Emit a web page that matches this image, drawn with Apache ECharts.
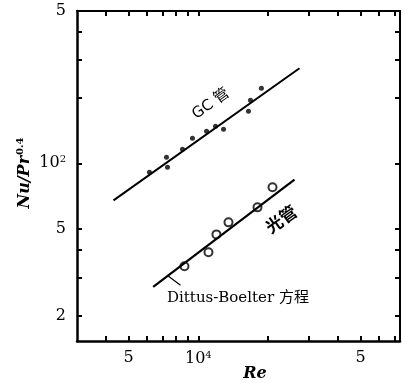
<!DOCTYPE html>
<html><head><meta charset="utf-8">
<script src="https://cdn.jsdelivr.net/npm/echarts@6/dist/echarts.min.js"></script>
<style>html,body{margin:0;padding:0;background:#fff}#c{width:406px;height:383px}</style>
</head><body><div id="c"></div>
<script>
// GC tube measured points (Re, Nu/Pr^0.4)
const gcRe = [6160, 7290, 7365, 8545, 9435, 10850, 11860, 12840, 16450, 16780, 18700];
const gcNu = [90.9, 106.5, 95.9, 115.9, 130.2, 140.3, 147.8, 143.2, 173.2, 194.5, 220.8];
// smooth tube measured points
const smRe = [8715, 11060, 11970, 13490, 17990, 20880];
const smNu = [33.7, 39.05, 47.2, 53.6, 62.8, 77.6];
// fitted lines (end points)
const gcLineRe = [4310, 27300];
const gcLineNu = [67.6, 272.9];
const dbLineRe = [6390, 25970];
const dbLineNu = [27.1, 84.2];
// leader line to Dittus-Boelter label
const leaderRe = [7365, 8380];
const leaderNu = [30.6, 27.6];
// axis ticks and labels
const xTicks = [4000, 5000, 6000, 7000, 8000, 9000, 10000, 20000, 30000, 40000, 50000, 60000, 70000];
const xLabelVals = [5000, 10000, 50000];
const xLabelText = ['5', '10{sup|4}', '5'];
const yTicks = [20, 30, 40, 50, 100, 200, 300, 400];
const yLabelVals = [20, 50, 100, 500];
const yLabelText = ['2', '5', '10{sup|2}', '5'];

const zip = (a, b) => a.map((v, i) => [v, b[i]]);
const serif = 'DejaVu Serif';
const labelRich = {sup: {fontSize: 10, fontFamily: serif, color: '#000', verticalAlign: 'top', padding: [0, 0, 8, 0]}};

function fmt(vals, texts) {
  return function (v) {
    for (let i = 0; i < vals.length; i++) {
      if (Math.abs(v - vals[i]) / vals[i] < 1e-3) return texts[i];
    }
    return '';
  };
}

const axisLine = {show: true, lineStyle: {color: '#000', width: 2.5}};
const tickStyle = {color: '#000', width: 2};
const chart = echarts.init(document.getElementById('c'), null, {renderer: 'canvas'});
const option = {
  animation: false,
  backgroundColor: '#fff',
  grid: {left: 77, right: 6, top: 11, bottom: 42, containLabel: false},
  xAxis: [{
    type: 'log', logBase: 10, min: 3000, max: 74000,
    axisLine: axisLine,
    axisTick: {show: true, inside: true, length: 5, customValues: xTicks, lineStyle: tickStyle},
    axisLabel: {show: true, customValues: xLabelVals, formatter: fmt(xLabelVals, xLabelText),
      color: '#000', fontSize: 16, fontFamily: serif, margin: 9, rich: labelRich},
    splitLine: {show: false}
  }, {
    type: 'log', logBase: 10, min: 3000, max: 74000, position: 'top',
    axisLine: {show: true, lineStyle: {color: '#000', width: 2}},
    axisTick: {show: true, inside: true, length: 5, customValues: xTicks, lineStyle: tickStyle},
    axisLabel: {show: false}, splitLine: {show: false}
  }],
  yAxis: [{
    type: 'log', logBase: 10, min: 15.3, max: 500,
    axisLine: axisLine,
    axisTick: {show: true, inside: true, length: 5, customValues: yTicks, lineStyle: tickStyle},
    axisLabel: {show: true, customValues: yLabelVals, formatter: fmt(yLabelVals, yLabelText),
      color: '#000', fontSize: 16, fontFamily: serif, margin: 11, rich: labelRich},
    splitLine: {show: false}
  }, {
    type: 'log', logBase: 10, min: 15.3, max: 500, position: 'right',
    axisLine: {show: true, lineStyle: {color: '#000', width: 2}},
    axisTick: {show: true, inside: true, length: 5, customValues: yTicks, lineStyle: tickStyle},
    axisLabel: {show: false}, splitLine: {show: false}
  }],
  series: [
    {type: 'line', data: zip(gcLineRe, gcLineNu), symbol: 'none', lineStyle: {color: '#000', width: 2}},
    {type: 'line', data: zip(dbLineRe, dbLineNu), symbol: 'none', lineStyle: {color: '#000', width: 2.2}},
    {type: 'line', data: zip(leaderRe, leaderNu), symbol: 'none', lineStyle: {color: '#000', width: 1.2}},
    {type: 'scatter', data: zip(gcRe, gcNu), symbol: 'circle', symbolSize: 5,
      itemStyle: {color: '#000'}},
    {type: 'scatter', data: zip(smRe, smNu), symbol: 'circle', symbolSize: 8,
      itemStyle: {color: '#fff', borderColor: '#000', borderWidth: 2}}
  ],
  graphic: [
    {type: 'text', x: 211, y: 104, rotation: 0.62, style: {text: 'GC 管', font: '15px "DejaVu Sans", "Noto Sans CJK SC"', fill: '#000', align: 'center', verticalAlign: 'middle'}},
    {type: 'text', x: 281, y: 219, rotation: 0.62, style: {text: '光管', font: 'bold 17px "Noto Sans CJK SC"', fill: '#000', align: 'center', verticalAlign: 'middle'}},
    {type: 'text', x: 167, y: 298, style: {text: 'Dittus-Boelter 方程', font: '15px "DejaVu Serif", "Noto Sans CJK SC"', fill: '#000', align: 'left', verticalAlign: 'middle'}},
    {type: 'text', x: 25, y: 173, rotation: Math.PI / 2, style: {
      text: '{it|Nu/Pr}{sup|0.4}', align: 'center', verticalAlign: 'middle',
      rich: {it: {font: 'italic bold 16px "DejaVu Serif"', fill: '#000'},
             sup: {font: 'bold 10px "DejaVu Serif"', fill: '#000', verticalAlign: 'top', padding: [0, 0, 10, 1]}}}},
    {type: 'text', x: 255, y: 374, style: {text: 'Re', font: 'italic bold 16px "DejaVu Serif"', fill: '#000', align: 'center', verticalAlign: 'middle'}}
  ]
};
chart.setOption(option);
</script></body></html>
